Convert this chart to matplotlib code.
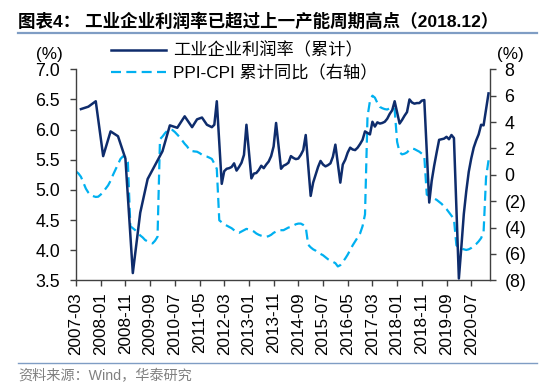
import matplotlib
matplotlib.use('Agg')
import matplotlib.pyplot as plt
import matplotlib.ticker as mticker

plt.rcParams['font.family'] = ['Liberation Sans', 'Noto Sans CJK SC']

# ---------------- data ----------------
title = '图表4： 工业企业利润率已超过上一产能周期高点（2018.12）'
source = '资料来源：Wind，华泰研究'
label_profit = '工业企业利润率（累计）'
label_spread = 'PPI-CPI 累计同比（右轴）'

xtick_labels = ['2007-03', '2008-01', '2008-11', '2009-09', '2010-07', '2011-05',
                '2012-03', '2013-01', '2013-11', '2014-09', '2015-07', '2016-05',
                '2017-03', '2018-01', '2018-11', '2019-09', '2020-07']

profit_dates = [
    '2007-05', '2007-08', '2007-11', '2008-02', '2008-05', '2008-08', '2008-11',
    '2009-02', '2009-05', '2009-08', '2009-11', '2010-02', '2010-05', '2010-08',
    '2010-11', '2011-02', '2011-04', '2011-06', '2011-08', '2011-10', '2011-11',
    '2011-12',
    '2012-02', '2012-03', '2012-04', '2012-05', '2012-06', '2012-07', '2012-08',
    '2012-09', '2012-10', '2012-11', '2012-12',
    '2013-02', '2013-03', '2013-04', '2013-05', '2013-06', '2013-07', '2013-08',
    '2013-09', '2013-10', '2013-11', '2013-12',
    '2014-02', '2014-03', '2014-04', '2014-05', '2014-06', '2014-07', '2014-08',
    '2014-09', '2014-10', '2014-11', '2014-12',
    '2015-02', '2015-03', '2015-04', '2015-05', '2015-06', '2015-07', '2015-08',
    '2015-09', '2015-10', '2015-11', '2015-12',
    '2016-02', '2016-03', '2016-04', '2016-05', '2016-06', '2016-07', '2016-08',
    '2016-09', '2016-10', '2016-11', '2016-12',
    '2017-02', '2017-03', '2017-04', '2017-05', '2017-06', '2017-07', '2017-08',
    '2017-09', '2017-10', '2017-11', '2017-12',
    '2018-02', '2018-03', '2018-04', '2018-05', '2018-06', '2018-07', '2018-08',
    '2018-09', '2018-10', '2018-11', '2018-12',
    '2019-02', '2019-03', '2019-04', '2019-05', '2019-06', '2019-07', '2019-08',
    '2019-09', '2019-10', '2019-11', '2019-12',
    '2020-02', '2020-03', '2020-04', '2020-05', '2020-06', '2020-07', '2020-08',
    '2020-09', '2020-10', '2020-11', '2020-12',
    '2021-02']

profit_values = [
    6.34, 6.38, 6.47, 5.56, 5.97, 5.89, 5.52,
    3.62, 4.62, 5.18, 5.41, 5.64, 6.07, 6.03,
    6.22, 6.04, 6.17, 6.20, 6.08, 6.04, 6.08,
    6.47,
    5.10, 5.31, 5.35, 5.36, 5.38, 5.44, 5.32, 5.38, 5.45, 5.58, 6.08,
    5.19, 5.27, 5.28, 5.33, 5.40, 5.36, 5.42, 5.47, 5.56, 5.72, 6.11,
    5.35, 5.40, 5.42, 5.45, 5.56, 5.53, 5.51, 5.52, 5.58, 5.66, 5.91,
    4.90, 5.12, 5.25, 5.38, 5.48, 5.42, 5.39, 5.41, 5.44, 5.55, 5.75,
    5.12, 5.42, 5.50, 5.62, 5.70, 5.67, 5.66, 5.70, 5.76, 5.83, 5.97,
    5.92, 6.13, 6.05, 6.12, 6.10, 6.11, 6.13, 6.18, 6.26, 6.32, 6.47,
    6.10, 6.16, 6.23, 6.29, 6.50, 6.45, 6.43, 6.44, 6.44, 6.48, 6.49,
    4.79, 5.15, 5.40, 5.62, 5.83, 5.84, 5.85, 5.88, 5.84, 5.91, 5.86,
    3.53, 4.05, 4.60, 4.98, 5.30, 5.52, 5.70, 5.82, 5.92, 6.08, 6.07,
    6.60]

# PPI-CPI cumulative yoy, monthly from 2007-03 to 2021-02
spread_start = '2007-03'
spread_values = [
    0.25, 0.10, -0.15, -0.60, -1.05, -1.35, -1.55, -1.62, -1.68, -1.66,            # 2007
    -1.50, -1.30, -1.05, -0.80, -0.45, 0.00, 0.40, 0.80, 1.20, 1.40, 1.35, 0.95,   # 2008
    -3.90, -4.05, -4.20, -4.40, -4.60, -4.75, -4.95, -5.05, -5.15, -5.20, -5.00, -4.70,  # 2009
    2.70, 2.90, 3.15, 3.35, 3.45, 3.40, 3.25, 3.05, 2.85, 2.60, 2.35, 2.15,        # 2010
    1.85, 1.80, 1.77, 1.75, 1.65, 1.52, 1.42, 1.38, 1.30, 1.20, 0.85, 0.45,        # 2011
    -3.45, -3.60, -3.75, -3.85, -3.95, -4.05, -4.20, -4.35, -4.40, -4.30, -4.20, -4.10,  # 2012
    -4.15, -4.20, -4.30, -4.45, -4.55, -4.62, -4.68, -4.70, -4.65, -4.55, -4.40, -4.30,  # 2013
    -4.20, -4.20, -4.20, -4.10, -4.00, -3.95, -3.85, -3.75, -3.70, -3.70, -3.80, -3.95,  # 2014
    -5.30, -5.50, -5.65, -5.75, -5.90, -6.00, -6.10, -6.25, -6.40, -6.50, -6.60, -6.70,  # 2015
    -6.95, -6.85, -6.60, -6.35, -6.05, -5.70, -5.35, -5.05, -4.75, -4.45, -3.90, -3.00,  # 2016
    4.40, 5.60, 6.00, 5.85, 5.45, 5.15, 5.05, 4.98, 4.95, 5.05, 5.15, 4.95,        # 2017
    2.50, 1.70, 1.55, 1.60, 1.70, 1.90, 2.00, 1.95, 1.85, 1.75, 1.60, 1.40,        # 2018
    -1.50, -1.60, -1.70, -1.80, -1.90, -2.05, -2.20, -2.40, -2.60, -2.85, -3.10, -3.35,  # 2019
    -5.35, -5.50, -5.60, -5.65, -5.70, -5.65, -5.55, -5.40, -5.25, -5.05, -4.80, -4.35,  # 2020
    -0.20, 1.10]                                                                    # 2021

left_ticks = [3.5, 4.0, 4.5, 5.0, 5.5, 6.0, 6.5, 7.0]
right_ticks = [-8, -6, -4, -2, 0, 2, 4, 6, 8]


def month_index(s, base='2007-03'):
    y, m = int(s[:4]), int(s[5:7])
    by, bm = int(base[:4]), int(base[5:7])
    return (y - by) * 12 + (m - bm)


# ---------------- figure ----------------
NAVY = '#0E2C6C'
SKY = '#00B0F0'
AXC = '#404040'
RULE = '#7F9DC4'

fig = plt.figure(figsize=(5.5, 3.9), dpi=100)
ax = fig.add_axes([76 / 550, 1 - 280.3 / 390, (490 - 76) / 550, (280.3 - 69.3) / 390])
ax2 = ax.twinx()

px = [month_index(d) for d in profit_dates]
sx = [month_index(spread_start) + i for i in range(len(spread_values))]

l1, = ax.plot(px, profit_values, color=NAVY, lw=1.8, solid_joinstyle='round', zorder=3)
l2, = ax2.plot(sx, spread_values, color=SKY, lw=1.6, dashes=(4.5, 2.4), zorder=2)
ax.set_zorder(ax2.get_zorder() + 1)
ax.patch.set_visible(False)

ax.set_xlim(0, 167.6)
ax.set_ylim(3.5, 7.0)
ax2.set_ylim(-8, 8)

xt = [month_index(s) for s in xtick_labels]
ax.set_xticks(xt)
ax.set_xticklabels(xtick_labels, rotation=90, fontsize=12.3)
ax.set_yticks(left_ticks)
ax.yaxis.set_major_formatter(mticker.FormatStrFormatter('%.1f'))
ax2.set_yticks(right_ticks)
ax2.set_yticklabels([('(%d)' % -v) if v < 0 else '%d' % v for v in right_ticks])

for a in (ax, ax2):
    a.spines['top'].set_visible(False)
    for side in ('left', 'right', 'bottom'):
        a.spines[side].set_color(AXC)
        a.spines[side].set_linewidth(1.0)
    a.tick_params(colors=AXC, labelcolor='black', length=4.5, width=1.0, direction='out')

ax.tick_params(axis='y', labelsize=12.8, pad=7)
ax.tick_params(axis='x', pad=4)
ax2.tick_params(axis='y', labelsize=12.8, pad=6)
ax.spines['right'].set_visible(False)
ax2.spines['left'].set_visible(False)
ax2.spines['bottom'].set_visible(False)

ax.text(-0.065, 1.068, '(%)', transform=ax.transAxes, ha='center', va='center', fontsize=12.3)
ax2.text(1.05, 1.068, '(%)', transform=ax.transAxes, ha='center', va='center', fontsize=12.3)

leg = ax.legend([l1, l2], [label_profit, label_spread], loc='upper left',
                bbox_to_anchor=(0.085, 1.128), frameon=False, fontsize=12.4,
                handlelength=3.2, handletextpad=0.4, labelspacing=0.35,
                borderpad=0, borderaxespad=0)

# title, rules, source
fig.text(18 / 550, 1 - 21 / 390, title, fontsize=12.6, fontweight='bold', ha='left', va='center')
fig.add_artist(plt.Line2D([18 / 550, 537 / 550], [1 - 32.5 / 390] * 2, color=RULE, lw=1.6))
fig.add_artist(plt.Line2D([18 / 550, 537 / 550], [1 - 363 / 390] * 2, color=RULE, lw=1.0))
fig.text(18 / 550, 1 - 376 / 390, source, fontsize=10.2, color='#808080', ha='left', va='center')

fig.savefig('out.png', dpi=100)
